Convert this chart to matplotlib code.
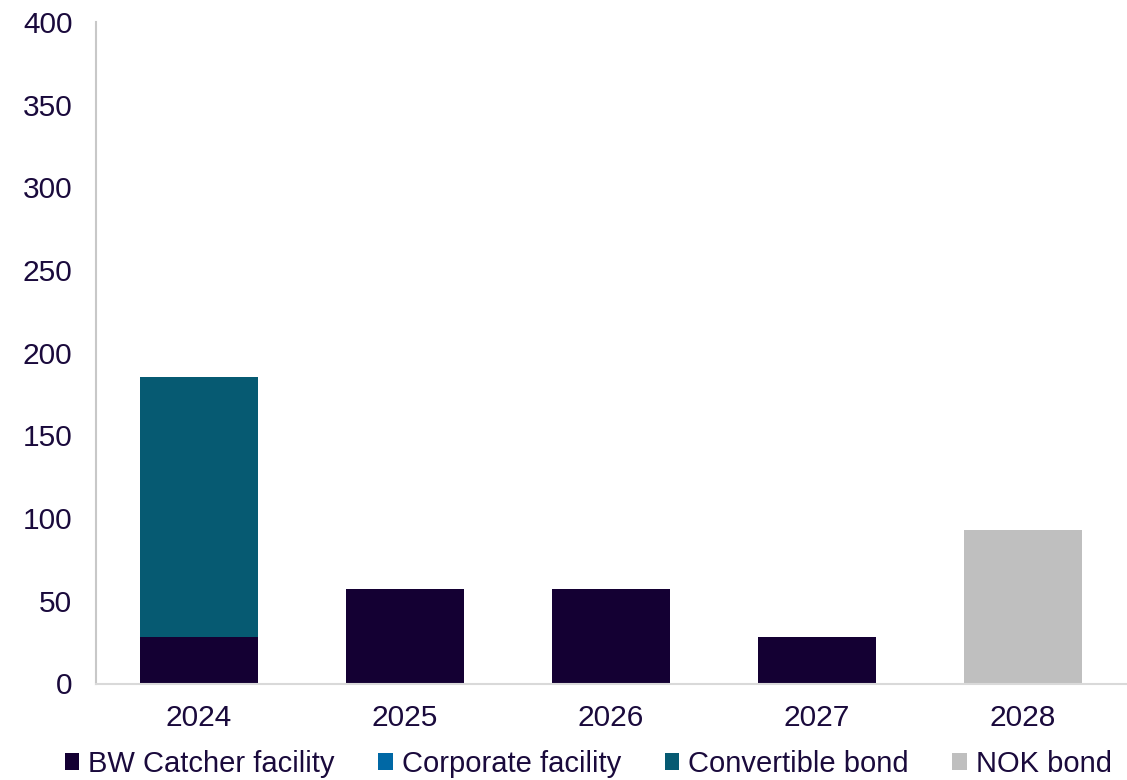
import matplotlib
matplotlib.use("Agg")
import matplotlib.pyplot as plt
from matplotlib.patches import Patch
import numpy as np

plt.rcParams['font.family'] = ['Liberation Sans', 'DejaVu Sans']

years = ["2024", "2025", "2026", "2027", "2028"]
bw_catcher = [28, 57, 57, 28, 0]
corporate = [0, 0, 0, 0, 0]
convertible = [157.5, 0, 0, 0, 0]
nok_bond = [0, 0, 0, 0, 93]

series = [
    ("BW Catcher facility", bw_catcher, "#140033"),
    ("Corporate facility", corporate, "#0068A5"),
    ("Convertible bond", convertible, "#065A72"),
    ("NOK bond", nok_bond, "#BFBFBF"),
]

text_color = "#1A0A3C"

fig = plt.figure(figsize=(11.27, 7.8), dpi=100)
ax = fig.add_axes([96 / 1127, (780 - 683.5) / 780, 1030 / 1127, 661.5 / 780])

x = np.arange(len(years))
bottom = np.zeros(len(years))
for name, vals, col in series:
    v = np.array(vals, dtype=float)
    ax.bar(x, v, width=0.573, bottom=bottom, color=col, label=name, zorder=2)
    bottom += v

ax.set_xlim(-0.5, len(years) - 0.5)
ax.set_ylim(0, 400)
ax.set_yticks(np.arange(0, 401, 50))
ax.set_xticks(x)
ax.set_xticklabels(years)

for s in ["top", "right"]:
    ax.spines[s].set_visible(False)
ax.spines["left"].set_color("#C8C8C8")
ax.spines["bottom"].set_color("#D9D9D9")
ax.spines["left"].set_linewidth(1.5)
ax.spines["bottom"].set_linewidth(1.5)
ax.tick_params(axis="both", length=0, labelsize=21.5, colors=text_color)
ax.tick_params(axis="y", pad=17)
ax.tick_params(axis="x", pad=15)

handles = [Patch(facecolor=c, edgecolor="none") for _, _, c in series]
labels = [n for n, _, _ in series]
fig.legend(handles, labels, loc="center", bbox_to_anchor=(0.522, (780 - 764) / 780),
           ncol=4, frameon=False, fontsize=21, handlelength=0.5, handleheight=0.55,
           handletextpad=0.3, columnspacing=1.5, labelcolor=text_color)

fig.savefig("out.png", dpi=100)
